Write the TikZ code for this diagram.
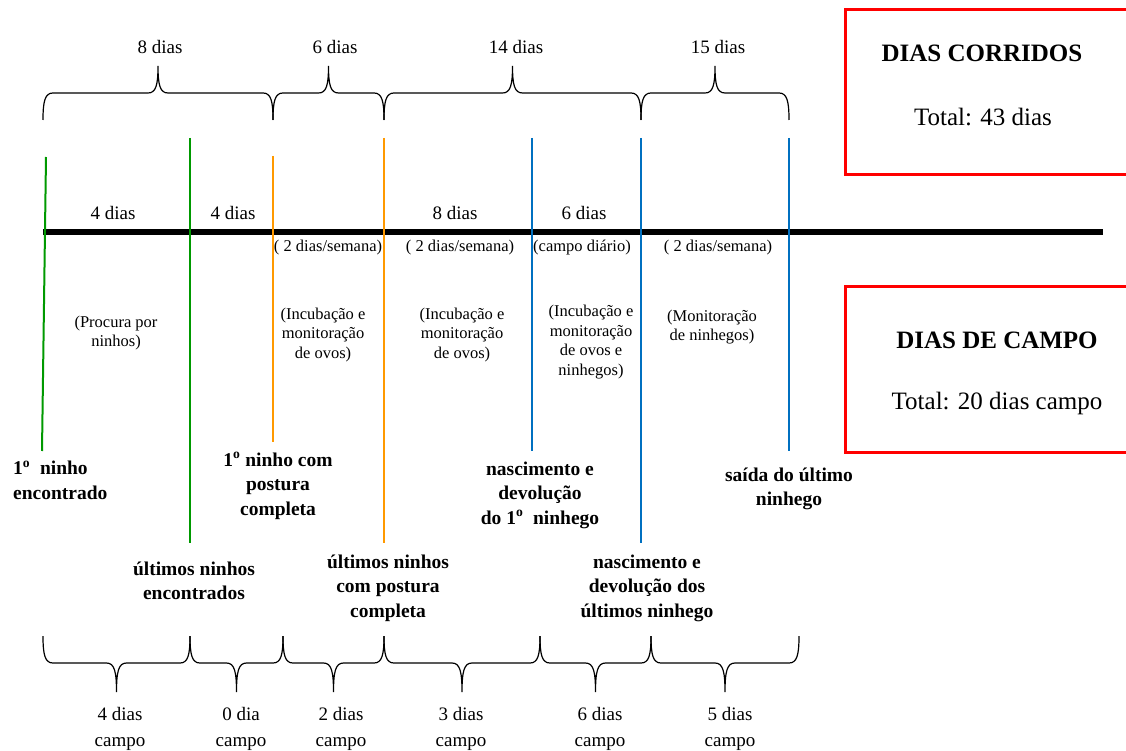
\documentclass[tikz,border=0pt]{standalone}
\usepackage{fontspec}
\setmainfont{Liberation Serif}
\usepackage{tikz}
\usetikzlibrary{positioning}

\begin{document}
\begin{tikzpicture}[x=1pt,y=-1pt]
\tikzstyle{timeaxis}=[line width=5.5pt,draw=black];
\tikzstyle{stageline}=[line width=2pt];
\tikzstyle{bracestyle}=[line width=1.2pt,draw=black];
\tikzstyle{redbox}=[line width=3pt,draw=red];
\tikzstyle{daylabel}=[font=\fontsize{19}{26}\selectfont,align=center,inner sep=0];
\tikzstyle{note}=[font=\fontsize{16.5}{19.5}\selectfont,align=center,inner sep=0];
\tikzstyle{event}=[font=\fontsize{19.5}{24.5}\selectfont\bfseries,align=center,inner sep=0];
\tikzstyle{boxtitle}=[font=\fontsize{25}{30}\selectfont\bfseries,inner sep=0];
\tikzstyle{boxtext}=[font=\fontsize{25}{30}\selectfont,inner sep=0];

\definecolor{nestgreen}{RGB}{0,153,0};
\definecolor{eggorange}{RGB}{255,153,0};
\definecolor{chickblue}{RGB}{0,112,192};

\useasboundingbox (0,0) rectangle (1126,751);

% brace: x1, x2, end y, bar y, tip y
\def\mybrace#1#2#3#4#5{%
\draw[bracestyle] (#1,#3) .. controls (#1,{#4+0.3*(#3-#4)}) and ({#1+2},#4) .. ({#1+10},#4)
  -- ({(#1+#2)/2-10},#4) .. controls ({(#1+#2)/2-2},#4) and ({(#1+#2)/2},{#4+0.3*(#5-#4)}) .. ({(#1+#2)/2},#5)
  .. controls ({(#1+#2)/2},{#4+0.3*(#5-#4)}) and ({(#1+#2)/2+2},#4) .. ({(#1+#2)/2+10},#4)
  -- ({#2-10},#4) .. controls ({#2-2},#4) and (#2,{#4+0.3*(#3-#4)}) .. (#2,#3);}

% dias corridos (top)
\mybrace{43}{273}{120}{93}{66}
\mybrace{273}{384}{120}{93}{66}
\mybrace{384}{641}{120}{93}{66}
\mybrace{641}{789}{120}{93}{66}
\node[daylabel] (top8) at (160,47) {8 dias};
\node[daylabel] (top6) at (335,47) {6 dias};
\node[daylabel] (top14) at (516,47) {14 dias};
\node[daylabel] (top15) at (718,47) {15 dias};

% time axis
\draw[timeaxis] (43,232) -- (1103,232);

% stage lines
\draw[stageline,nestgreen] (46,157) -- (42,451); % 1o ninho
\draw[stageline,nestgreen] (190,138) -- (190,543); % ultimos ninhos
\draw[stageline,eggorange] (273,156) -- (273,442); % 1a postura
\draw[stageline,eggorange] (384,138) -- (384,543); % ultimas posturas
\draw[stageline,chickblue] (532,138) -- (532,451); % 1o nascimento
\draw[stageline,chickblue] (641,138) -- (641,543); % ultimos nascimentos
\draw[stageline,chickblue] (789,138) -- (789,451); % saida

% intervals on the axis
\node[daylabel] (axis4a) at (113,213) {4 dias};
\node[daylabel] (axis4b) at (233,213) {4 dias};
\node[daylabel] (axis8) at (455,213) {8 dias};
\node[daylabel] (axis6) at (584,213) {6 dias};

\node[note] (freqA) at (328,248) {( 2 dias/semana)};
\node[note] (freqB) at (460,248) {( 2 dias/semana)};
\node[note] (freqC) at (582,248) {(campo diário)};
\node[note] (freqD) at (718,248) {( 2 dias/semana)};

\node[note] (taskA) at (116,333) {(Procura por\\ninhos)};
\node[note] (taskB) at (323,335) {(Incubação e\\monitoração\\de ovos)};
\node[note] (taskC) at (462,335) {(Incubação e\\monitoração\\de ovos)};
\node[note] (taskD) at (591,342) {(Incubação e\\monitoração\\de ovos e\\ninhegos)};
\node[note] (taskE) at (712,327) {(Monitoração\\de ninhegos)};

% events
\node[event,align=left,anchor=west] (firstnest) at (13,480) {1\textsuperscript{o}\ \ ninho\\encontrado};
\node[event] (firstlay) at (278,486) {1\textsuperscript{o} ninho com\\postura\\completa};
\node[event] (lastnest) at (194,581) {últimos ninhos\\encontrados};
\node[event] (lastlay) at (388,588) {últimos ninhos\\com postura\\completa};
\node[event] (firsthatch) at (540,495) {nascimento e\\devolução\\do 1\textsuperscript{o}\ \ ninhego};
\node[event] (fledge) at (789,489) {saída do último\\ninhego};
\node[event] (lasthatch) at (647,588) {nascimento e\\devolução dos\\últimos ninhego};

% dias de campo (bottom)
\mybrace{43}{190}{636}{663}{692}
\mybrace{190}{283}{636}{663}{692}
\mybrace{283}{384}{636}{663}{692}
\mybrace{384}{540}{636}{663}{692}
\mybrace{540}{651}{636}{663}{692}
\mybrace{651}{799}{636}{663}{692}
\node[daylabel] (field4) at (120,729) {4 dias\\campo};
\node[daylabel] (field0) at (241,729) {0 dia\\campo};
\node[daylabel] (field2) at (341,729) {2 dias\\campo};
\node[daylabel] (field3) at (461,729) {3 dias\\campo};
\node[daylabel] (field6) at (600,729) {6 dias\\campo};
\node[daylabel] (field5) at (730,729) {5 dias\\campo};

% totals
\draw[redbox] (1135,10) -- (845,10) -- (845,175) -- (1135,175);
\node[boxtitle] (corridos) at (982,53) {DIAS CORRIDOS};
\node[boxtext] (totalA) at (983,117) {Total: 43 dias};

\draw[redbox] (1135,286) -- (845,286) -- (845,452) -- (1135,452);
\node[boxtitle] (campo) at (997,340) {DIAS DE CAMPO};
\node[boxtext] (totalB) at (997,403) {Total: 20 dias campo};

\end{tikzpicture}
\end{document}
